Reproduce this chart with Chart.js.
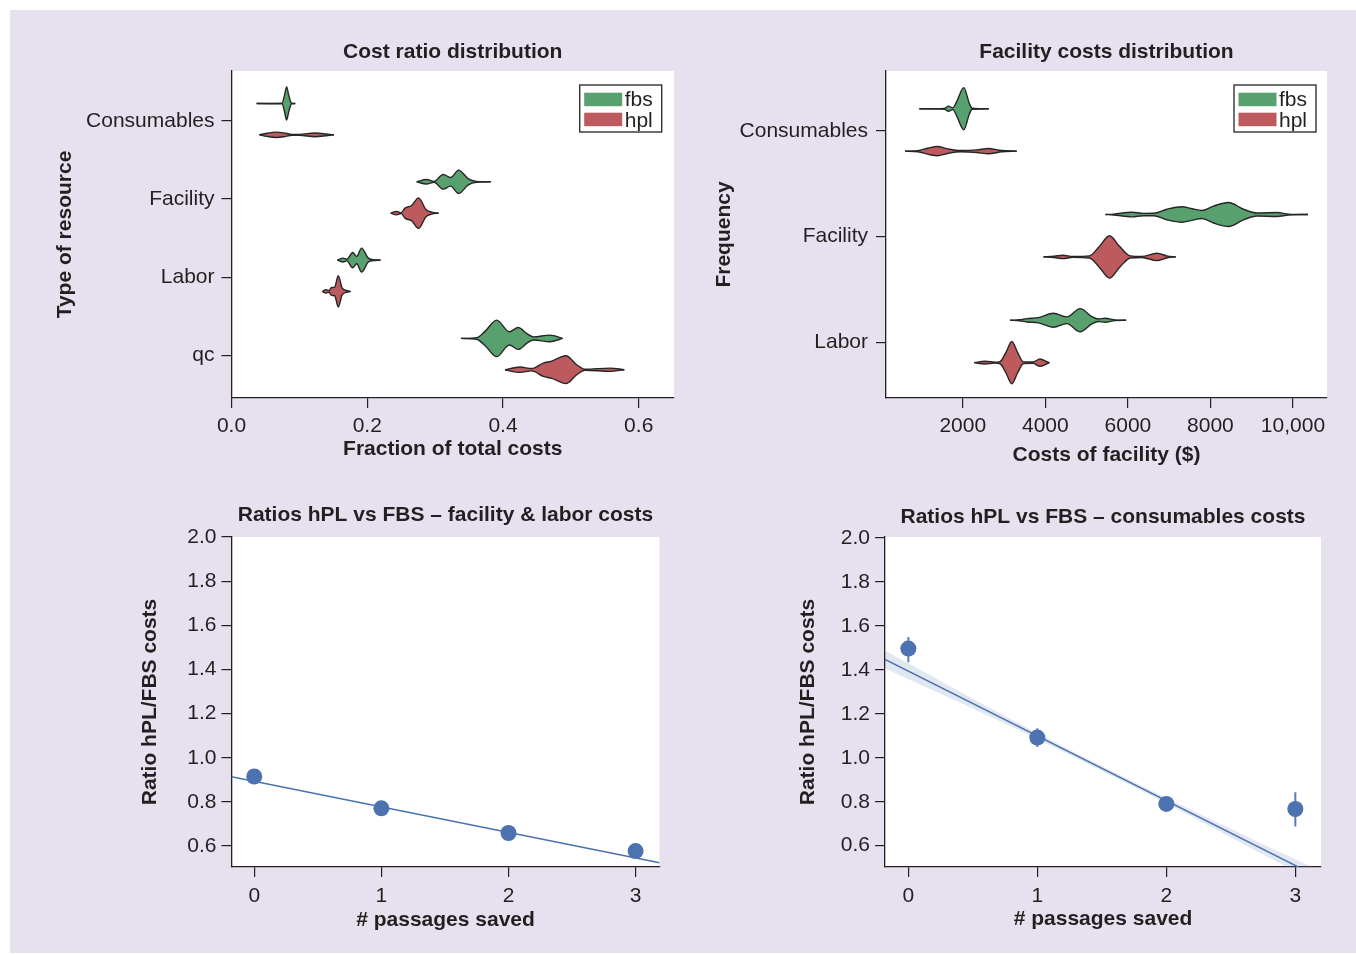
<!DOCTYPE html>
<html>
<head>
<meta charset="utf-8">
<script src="https://cdn.jsdelivr.net/npm/chart.js@4.4.0/dist/chart.umd.min.js"></script>
<style>
html,body{margin:0;padding:0;background:#ffffff;}
#bg{position:absolute;left:10px;top:10px;width:1346px;height:943px;background:#E7E1EF;}
.panel{position:absolute;}
</style>
</head>
<body>
<div id="bg"></div>
<div class="panel" style="left:40px;top:20px;width:650px;height:460px"><canvas id="c1"></canvas></div>
<div class="panel" style="left:700px;top:20px;width:645px;height:460px"><canvas id="c2"></canvas></div>
<div class="panel" style="left:120px;top:490px;width:560px;height:460px"><canvas id="c3"></canvas></div>
<div class="panel" style="left:780px;top:490px;width:560px;height:460px"><canvas id="c4"></canvas></div>
<script>
// ---------------- DATA ----------------
const hueNames = ['fbs', 'hpl'];

// Panel 1: Cost ratio distribution (violin outlines: value, half-width)
const ratioCategories = ['Consumables', 'Facility', 'Labor', 'qc'];
const ratioFbsValues = [
  [0.037, 0.0745, 0.078, 0.0812, 0.0845, 0.0886, 0.094],
  [0.2728, 0.2875, 0.2983, 0.312, 0.3229, 0.3347, 0.349, 0.361, 0.382],
  [0.1558, 0.1646, 0.170, 0.1785, 0.1844, 0.1917, 0.2015, 0.2088, 0.2197],
  [0.3381, 0.3612, 0.3735, 0.3907, 0.4093, 0.4225, 0.4354, 0.4447, 0.4693, 0.488]
];
const ratioFbsWidths = [
  [0, 0.003, 0.1, 0.212, 0.1, 0.003, 0],
  [0, 0.029, 0.006, 0.093, 0.055, 0.149, 0.038, 0.006, 0],
  [0, 0.025, 0.01, 0.098, 0.047, 0.153, 0.025, 0.006, 0],
  [0, 0.01, 0.09, 0.233, 0.085, 0.14, 0.06, 0.02, 0.042, 0]
];
const ratioHplValues = [
  [0.041, 0.052, 0.0665, 0.080, 0.089, 0.100, 0.1229, 0.142, 0.151],
  [0.2345, 0.2433, 0.2501, 0.2556, 0.2654, 0.2757, 0.2865, 0.2949, 0.3052],
  [0.1337, 0.1391, 0.1435, 0.1475, 0.152, 0.1573, 0.163, 0.1693, 0.1755],
  [0.403, 0.425, 0.4423, 0.4594, 0.4718, 0.4928, 0.5086, 0.5209, 0.5577, 0.5788]
];
const ratioHplWidths = [
  [0, 0.02, 0.034, 0.02, 0.006, 0.006, 0.024, 0.008, 0],
  [0, 0.022, 0.006, 0.064, 0.098, 0.195, 0.045, 0.013, 0],
  [0, 0.021, 0.01, 0.05, 0.055, 0.2, 0.045, 0.012, 0],
  [0, 0.034, 0.015, 0.085, 0.11, 0.178, 0.064, 0.006, 0.021, 0]
];
const ratioXTicks = [0, 0.2, 0.4, 0.6];
const ratioXTickLabels = ['0.0', '0.2', '0.4', '0.6'];

// Panel 2: Facility costs distribution
const facilityCategories = ['Consumables', 'Facility', 'Labor'];
const facilityFbsValues = [
  [948, 1560, 1651, 1760, 1855, 2024, 2160, 2225, 2630],
  [5458, 5651, 6097, 6378, 6621, 6945, 7309, 7552, 7794, 8075, 8439, 8802, 9127, 9612, 9893, 10364],
  [3147, 3372, 3552, 3833, 4196, 4521, 4844, 5127, 5288, 5450, 5692, 5959]
];
const facilityFbsWidths = [
  [0, 0.004, 0.025, 0.008, 0.07, 0.2, 0.05, 0.005, 0],
  [0, 0.004, 0.022, 0.011, 0.012, 0.05, 0.073, 0.055, 0.038, 0.08, 0.113, 0.05, 0.014, 0.019, 0.004, 0],
  [0, 0.005, 0.016, 0.025, 0.066, 0.032, 0.11, 0.035, 0.012, 0.019, 0.003, 0]
];
const facilityHplValues = [
  [601, 909, 1166, 1384, 1651, 1935, 2339, 2621, 2945, 3309],
  [3954, 4213, 4424, 4667, 5069, 5312, 5554, 5796, 6056, 6339, 6703, 6960, 7164],
  [2274, 2541, 2783, 2904, 3050, 3188, 3324, 3469, 3697, 3874, 4036, 4099]
];
const facilityHplWidths = [
  [0, 0.005, 0.03, 0.044, 0.02, 0.006, 0.012, 0.025, 0.006, 0],
  [0, 0.006, 0.016, 0.004, 0.01, 0.1, 0.2, 0.1, 0.01, 0.005, 0.035, 0.008, 0],
  [0, 0.013, 0.004, 0.01, 0.1, 0.2, 0.1, 0.008, 0.006, 0.035, 0.01, 0]
];
const facilityXTicks = [2000, 4000, 6000, 8000, 10000];
const facilityXTickLabels = ['2000', '4000', '6000', '8000', '10,000'];

// Panels 3 & 4: ratios vs passages saved
const passagesSaved = [0, 1, 2, 3];
const passageTickLabels = ['0', '1', '2', '3'];
const ratioYTicks = [0.6, 0.8, 1.0, 1.2, 1.4, 1.6, 1.8, 2.0];
const ratioYTickLabels = ['0.6', '0.8', '1.0', '1.2', '1.4', '1.6', '1.8', '2.0'];
const ratioFacilityLabor = [0.915, 0.771, 0.659, 0.577];
const fitFacilityLabor = [0.893, -0.1156];      // intercept, slope
const ratioConsumables = [1.497, 1.092, 0.790, 0.767];
const ciConsumablesLow = [1.435, 1.049, 0.775, 0.687];
const ciConsumablesHigh = [1.55, 1.135, 0.805, 0.843];
const fitConsumables = [1.394, -0.2947];        // intercept, slope
const bandPassages = [-0.2, 0, 0.5, 1, 1.5, 2, 2.5, 3, 3.2];
const bandHalfWidth = [0.042, 0.036, 0.022, 0.014, 0.011, 0.013, 0.02, 0.028, 0.033];

// ---------------- STYLE ----------------
const FONT = '"Liberation Sans", Arial, Helvetica, sans-serif';
const INK = '#231F20';
const GREEN = '#58A06E', RED = '#BC5A5E', BLUE = '#4C72B0';
const tickFont = {family: FONT, size: 21};
const boldFont = {family: FONT, size: 21, weight: 'bold'};

Chart.defaults.font.family = FONT;
Chart.defaults.color = INK;

const whiteArea = {
  id: 'whiteArea',
  beforeDraw(chart) {
    const {ctx, chartArea: a} = chart;
    ctx.save(); ctx.fillStyle = '#ffffff';
    ctx.fillRect(a.left, a.top, a.right - a.left, a.bottom - a.top);
    ctx.restore();
  }
};
const panelTitle = {
  id: 'panelTitle',
  afterDraw(chart, args, opts) {
    if (!opts || !opts.text) return;
    const {ctx, chartArea: a} = chart;
    ctx.save();
    ctx.font = 'bold 21px ' + FONT; ctx.fillStyle = INK;
    ctx.textAlign = 'center'; ctx.textBaseline = 'middle';
    ctx.fillText(opts.text, (a.left + a.right) / 2, a.top - opts.offset);
    ctx.restore();
  }
};
const hueLegend = {
  id: 'hueLegend',
  afterDraw(chart, args, opts) {
    if (!opts || !opts.show) return;
    const {ctx, chartArea: a} = chart;
    const bw = 82, bh = 47;
    const x0 = a.right - opts.right - bw, y0 = a.top + opts.top;
    ctx.save();
    ctx.fillStyle = '#ffffff'; ctx.fillRect(x0, y0, bw, bh);
    ctx.strokeStyle = '#333333'; ctx.lineWidth = 1.4; ctx.strokeRect(x0, y0, bw, bh);
    [GREEN, RED].forEach((c, i) => {
      ctx.fillStyle = c; ctx.fillRect(x0 + 4.5, y0 + 7.7 + i * 20, 38, 13.5);
      ctx.fillStyle = INK; ctx.font = '21px ' + FONT; ctx.textBaseline = 'alphabetic'; ctx.textAlign = 'left';
      ctx.fillText(hueNames[i], x0 + 45, y0 + 20.9 + i * 21);
    });
    ctx.restore();
  }
};

function xAxis(min, max, ticks, labels, title, titlePadBottom, height, tickPad) {
  return {
    type: 'linear', position: 'bottom', min, max,
    afterBuildTicks: s => { s.ticks = ticks.map(v => ({value: v})); },
    afterFit: s => { s.height = height; },
    ticks: {font: tickFont, color: INK, padding: tickPad, maxRotation: 0, autoSkip: false,
            callback: (v, i) => labels[i]},
    grid: {display: true, drawOnChartArea: false, drawTicks: true, tickLength: 10, color: INK, lineWidth: 1.2},
    border: {display: true, color: INK, width: 1.3},
    title: {display: true, text: title, font: boldFont, color: INK, padding: {top: 0, bottom: titlePadBottom}}
  };
}
function yAxis(min, max, reverse, ticks, labels, title, titlePadTop, width, tickPad) {
  return {
    type: 'linear', position: 'left', min, max, reverse,
    afterBuildTicks: s => { s.ticks = ticks.map(v => ({value: v})); },
    afterFit: s => { s.width = width; },
    ticks: {font: tickFont, color: INK, padding: tickPad, autoSkip: false,
            callback: (v, i) => labels[i]},
    grid: {display: true, drawOnChartArea: false, drawTicks: true, tickLength: 10, color: INK, lineWidth: 1.2},
    border: {display: true, color: INK, width: 1.3},
    title: {display: true, text: title, font: boldFont, color: INK, padding: {top: titlePadTop, bottom: 0}}
  };
}
function violinDatasets(values, widths, center, color) {
  const common = {borderColor: '#262626', borderWidth: 1.4, pointRadius: 0, pointHoverRadius: 0,
                  cubicInterpolationMode: 'monotone', backgroundColor: color};
  return [
    {...common, data: values.map((v, i) => ({x: v, y: center - widths[i]})), fill: '+1'},
    {...common, data: values.map((v, i) => ({x: v, y: center + widths[i]})), fill: false}
  ];
}
function violinPanel(cats, fbsV, fbsW, hplV, hplW, offsets) {
  const ds = [];
  cats.forEach((c, k) => {
    ds.push(...violinDatasets(fbsV[k], fbsW[k], k + offsets[0], GREEN));
    ds.push(...violinDatasets(hplV[k], hplW[k], k + offsets[1], RED));
  });
  return ds;
}
const baseOptions = (padTop, padRight) => ({
  responsive: true, maintainAspectRatio: false, animation: false, events: [],
  layout: {padding: {top: padTop, right: padRight, left: 0, bottom: 0}},
});

// ---------------- PANEL 1 ----------------
new Chart(document.getElementById('c1'), {
  type: 'line',
  data: {datasets: violinPanel(ratioCategories, ratioFbsValues, ratioFbsWidths, ratioHplValues, ratioHplWidths, [-0.22, 0.18])},
  options: {
    ...baseOptions(51, 16),
    scales: {
      x: xAxis(0, 0.652, ratioXTicks, ratioXTickLabels, 'Fraction of total costs', 17.8, 82, 6),
      y: yAxis(-0.635, 3.541, true, ratioCategories.map((c, i) => i), ratioCategories, 'Type of resource', 12.4, 191.5, 7)
    },
    plugins: {legend: {display: false}, tooltip: {enabled: false}, filler: {drawTime: 'beforeDatasetsDraw'},
      panelTitle: {text: 'Cost ratio distribution', offset: 19},
      hueLegend: {show: true, right: 12.3, top: 14}}
  },
  plugins: [whiteArea, panelTitle, hueLegend]
});

// ---------------- PANEL 2 ----------------
new Chart(document.getElementById('c2'), {
  type: 'line',
  data: {datasets: violinPanel(facilityCategories, facilityFbsValues, facilityFbsWidths, facilityHplValues, facilityHplWidths, [-0.208, 0.193])},
  options: {
    ...baseOptions(51, 18),
    scales: {
      x: xAxis(140, 10824, facilityXTicks, facilityXTickLabels, 'Costs of facility ($)', 12, 82, 5.5),
      y: yAxis(-0.565, 2.527, true, facilityCategories.map((c, i) => i), facilityCategories, 'Frequency', 11.4, 186, 8)
    },
    plugins: {legend: {display: false}, tooltip: {enabled: false}, filler: {drawTime: 'beforeDatasetsDraw'},
      panelTitle: {text: 'Facility costs distribution', offset: 19},
      hueLegend: {show: true, right: 11, top: 14}}
  },
  plugins: [whiteArea, panelTitle, hueLegend]
});

// ---------------- PANEL 3 ----------------
const p3x = [-0.179, 3.188];
new Chart(document.getElementById('c3'), {
  type: 'line',
  data: {datasets: [
    {data: passagesSaved.map((x, i) => ({x, y: ratioFacilityLabor[i]})), showLine: false,
     pointRadius: 8, pointBackgroundColor: BLUE, pointBorderWidth: 0, pointBorderColor: BLUE},
    {data: p3x.map(x => ({x, y: fitFacilityLabor[0] + fitFacilityLabor[1] * x})),
     borderColor: BLUE, borderWidth: 1.5, pointRadius: 0, fill: false}
  ]},
  options: {
    ...baseOptions(47, 20.5),
    scales: {
      x: xAxis(p3x[0], p3x[1], passagesSaved, passageTickLabels, '# passages saved', 17.4, 83, 6.5),
      y: yAxis(0.505, 2.0, false, ratioYTicks, ratioYTickLabels, 'Ratio hPL/FBS costs', 17.4, 111.5, 5)
    },
    plugins: {legend: {display: false}, tooltip: {enabled: false},
      panelTitle: {text: 'Ratios hPL vs FBS \u2013 facility & labor costs', offset: 22}}
  },
  plugins: [whiteArea, panelTitle]
});

// ---------------- PANEL 4 ----------------
const p4x = [-0.181, 3.199];
const errData = [];
passagesSaved.forEach((x, i) => {
  errData.push({x, y: ciConsumablesLow[i]}, {x, y: ciConsumablesHigh[i]}, {x: x + 0.5, y: null});
});
new Chart(document.getElementById('c4'), {
  type: 'line',
  data: {datasets: [
    {data: passagesSaved.map((x, i) => ({x, y: ratioConsumables[i]})), showLine: false,
     pointRadius: 8, pointBackgroundColor: BLUE, pointBorderWidth: 0, pointBorderColor: BLUE},
    {data: errData, borderColor: '#5A7DBA', borderWidth: 2, pointRadius: 0, spanGaps: false, fill: false},
    {data: p4x.map(x => ({x, y: fitConsumables[0] + fitConsumables[1] * x})),
     borderColor: BLUE, borderWidth: 1.5, pointRadius: 0, fill: false},
    {data: bandPassages.map((x, i) => ({x, y: fitConsumables[0] + fitConsumables[1] * x + bandHalfWidth[i]})),
     borderWidth: 0, pointRadius: 0, backgroundColor: 'rgba(76,114,176,0.16)', fill: '+1', cubicInterpolationMode: 'monotone'},
    {data: bandPassages.map((x, i) => ({x, y: fitConsumables[0] + fitConsumables[1] * x - bandHalfWidth[i]})),
     borderWidth: 0, pointRadius: 0, fill: false, cubicInterpolationMode: 'monotone'}
  ]},
  options: {
    ...baseOptions(47, 19),
    scales: {
      x: xAxis(p4x[0], p4x[1], passagesSaved, passageTickLabels, '# passages saved', 18.4, 83, 6.5),
      y: yAxis(0.503, 2.005, false, ratioYTicks, ratioYTickLabels, 'Ratio hPL/FBS costs', 15.4, 105, 5)
    },
    plugins: {legend: {display: false}, tooltip: {enabled: false},
      panelTitle: {text: 'Ratios hPL vs FBS \u2013 consumables costs', offset: 20}}
  },
  plugins: [whiteArea, panelTitle]
});
</script>
</body>
</html>
